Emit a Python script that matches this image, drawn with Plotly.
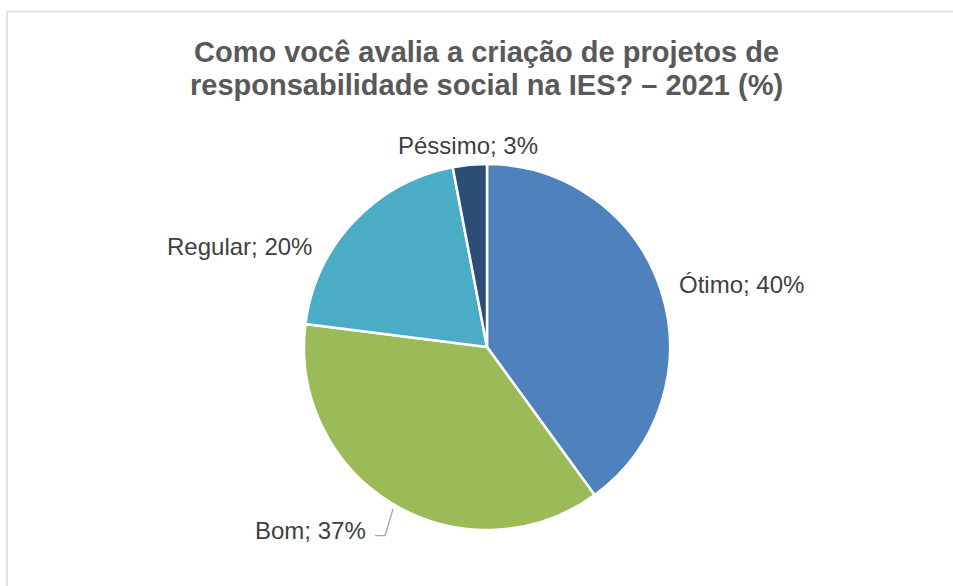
import plotly.graph_objects as go

categories = ["Ótimo", "Bom", "Regular", "Péssimo"]
values = [40, 37, 20, 3]
colors = ["#4F81BD", "#9BBB59", "#4BACC6", "#2C4D75"]
title_lines = ["Como você avalia a criação de projetos de",
               "responsabilidade social na IES? – 2021 (%)"]

W, H = 953, 586
cx, cy, r = 487, 347, 183
FONT = "Liberation Sans, Arial, sans-serif"

def px(x):
    return x / W

def py(y):
    return 1 - y / H

fig = go.Figure(go.Pie(
    labels=categories,
    values=values,
    sort=False,
    direction="clockwise",
    rotation=0,
    marker=dict(colors=colors, line=dict(color="white", width=2.5)),
    textinfo="none",
    showlegend=False,
    hoverinfo="label+value",
    domain=dict(x=[px(cx - r), px(cx + r)], y=[py(cy + r), py(cy - r)]),
))

annotations = []
for line, ypix in zip(title_lines, [52, 85]):
    annotations.append(dict(
        text=f"<b>{line}</b>", xref="paper", yref="paper",
        x=px(486), y=py(ypix), xanchor="center", yanchor="middle",
        showarrow=False, font=dict(family=FONT, size=29, color="#595959")))

# data-label placement (x, y, xanchor) per category
label_pos = {
    "Ótimo": (677, 284, "left"),
    "Bom": (368, 530, "right"),
    "Regular": (314, 246, "right"),
    "Péssimo": (467.5, 146, "center"),
}
for cat, val in zip(categories, values):
    x, y, xa = label_pos[cat]
    annotations.append(dict(
        text=f"{cat}; {val}%", xref="paper", yref="paper",
        x=px(x), y=py(y), xanchor=xa, yanchor="middle",
        showarrow=False, font=dict(family=FONT, size=24, color="#404040")))

fig.update_layout(
    width=W, height=H,
    margin=dict(l=0, r=0, t=0, b=0),
    paper_bgcolor="white",
    annotations=annotations,
    shapes=[
        dict(type="line", xref="paper", yref="paper", x0=px(7), x1=1, y0=py(11.5), y1=py(11.5),
             line=dict(color="#D9D9D9", width=1.5)),
        dict(type="line", xref="paper", yref="paper", x0=px(7), x1=px(7), y0=0, y1=py(11.5),
             line=dict(color="#D9D9D9", width=1.5)),
        dict(type="path", xref="paper", yref="paper",
             path=f"M {px(375)} {py(535.7)} L {px(385)} {py(535.7)} L {px(393)} {py(509)}",
             line=dict(color="#A6A6A6", width=1.3)),
    ],
)

fig.write_html("out.html", config={"displayModeBar": False},
               post_script="document.body.style.margin='0';document.body.style.overflow='hidden';")
